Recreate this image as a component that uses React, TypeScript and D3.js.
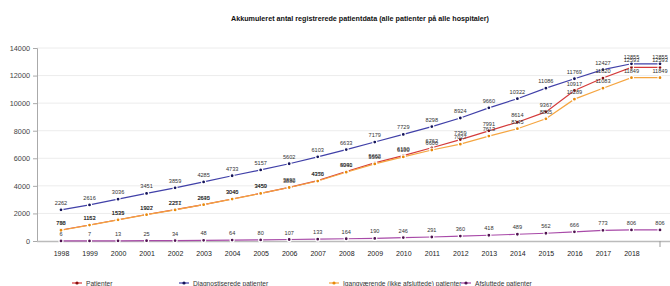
import { useEffect, useRef } from 'react';
import * as d3 from 'd3';

const years = ['1998','1999','2000','2001','2002','2003','2004','2005','2006','2007','2008','2009','2010','2011','2012','2013','2014','2015','2016','2017','2018',''];

const patienter = [798, 1163, 1539, 1922, 2271, 2640, 3045, 3459, 3892, 4376, 5041, 5662, 6190, 6762, 7359, 7991, 8614, 9367, 10917, 11820, 12593, 12593];
const diagnostiserede = [2262, 2616, 3036, 3451, 3859, 4285, 4733, 5157, 5602, 6103, 6633, 7179, 7729, 8298, 8924, 9660, 10322, 11086, 11769, 12427, 12855, 12855];
const igangvaerende = [780, 1152, 1535, 1907, 2257, 2635, 3040, 3450, 3880, 4350, 4990, 5590, 6100, 6600, 7027, 7613, 8145, 8865, 10289, 11083, 11849, 11849];
const afsluttede = [6, 7, 13, 25, 34, 48, 64, 80, 107, 133, 164, 190, 246, 291, 360, 418, 489, 562, 666, 773, 806, 806];

const yTicks = [0, 2000, 4000, 6000, 8000, 10000, 12000, 14000];

const series = [
  { name: 'Patienter', values: patienter, line: '#d43a3a', dot: '#8b0d0d', lx: 86 },
  { name: 'Diagnostiserede patienter', values: diagnostiserede, line: '#4040a8', dot: '#14145a', lx: 193 },
  { name: 'Igangværende (ikke afsluttede) patienter', values: igangvaerende, line: '#f5a540', dot: '#e8890a', lx: 343 },
  { name: 'Afsluttede patienter', values: afsluttede, line: '#a84aa8', dot: '#4f124f', lx: 475 },
];

const App = () => {
  const svgRef = useRef<SVGSVGElement>(null);

  useEffect(() => {
    const width = 670, height = 286;
    const svg = d3.select(svgRef.current).attr('width', width).attr('height', height);
    svg.selectAll('*').remove();

    const font = '"Liberation Sans", Arial, sans-serif';
    const x = d3.scalePoint<number>().domain(d3.range(years.length)).range([61, 660]);
    const y = d3.scaleLinear().domain([0, 14000]).range([241, 48]);

    svg.append('text')
      .attr('x', 360).attr('y', 21)
      .attr('text-anchor', 'middle')
      .style('font', `bold 7.2px ${font}`)
      .attr('fill', '#111')
      .text('Akkumuleret antal registrerede patientdata (alle patienter på alle hospitaler)');

    // grid
    svg.append('g').selectAll('line').data(yTicks.slice(1)).enter().append('line')
      .attr('x1', 37).attr('x2', 670)
      .attr('y1', d => y(d)).attr('y2', d => y(d))
      .attr('stroke', '#ececec').attr('stroke-width', 1);

    const gy = svg.append('g').attr('transform', 'translate(37,0)')
      .call(d3.axisLeft(y).tickValues(yTicks).tickSize(4).tickPadding(3).tickFormat(d3.format('d')));
    gy.select('.domain').attr('stroke', '#aaa');
    gy.selectAll('line').attr('stroke', '#aaa');
    gy.selectAll('text').style('font', `7.3px ${font}`).attr('fill', '#444');

    const gx = svg.append('g').attr('transform', 'translate(0,241)')
      .call(d3.axisBottom(x).tickSize(0).tickPadding(10).tickFormat(i => years[i as number]));
    gx.select('.domain').attr('d', 'M37,0.5H670').attr('stroke', '#bbb').attr('stroke-width', 1.5);
    gx.selectAll('text').style('font', `7px ${font}`).attr('fill', '#222');
    gx.append('line')
      .attr('x1', x(years.length - 1)!).attr('x2', x(years.length - 1)!)
      .attr('y1', 0).attr('y2', 6).attr('stroke', '#999');

    const line = d3.line<number>().x((_, i) => x(i)!).y(d => y(d));

    series.forEach(s => {
      svg.append('path').datum(s.values)
        .attr('d', line)
        .attr('fill', 'none')
        .attr('stroke', s.line)
        .attr('stroke-width', 1.2);
    });

    series.forEach(s => {
      svg.append('g').selectAll('circle').data(s.values).enter().append('circle')
        .attr('cx', (_, i) => x(i)!).attr('cy', d => y(d)).attr('r', 2)
        .attr('fill', s.dot).attr('stroke', '#fff').attr('stroke-width', 1.2);
    });

    series.forEach(s => {
      svg.append('g').selectAll('text').data(s.values).enter().append('text')
        .attr('x', (_, i) => x(i)!).attr('y', d => y(d) - 5)
        .attr('text-anchor', 'middle')
        .style('font', `5.6px ${font}`)
        .attr('fill', '#333')
        .text(d => d);
    });

    // legend
    const lg = svg.append('g');
    series.forEach(s => {
      const item = lg.append('g');
      item.append('line').attr('x1', s.lx - 14).attr('x2', s.lx - 4)
        .attr('y1', 283).attr('y2', 283).attr('stroke', s.line).attr('stroke-width', 1.2);
      item.append('circle').attr('cx', s.lx - 9).attr('cy', 283).attr('r', 1.6).attr('fill', s.dot);
      item.append('text').attr('x', s.lx).attr('y', 285.5)
        .style('font', `6.6px ${font}`).attr('fill', '#333').text(s.name);
    });
  }, []);

  return (
    <svg ref={svgRef} style={{ position: 'absolute', left: 0, top: 0, background: '#fff' }}></svg>
  );
};

export default App;
